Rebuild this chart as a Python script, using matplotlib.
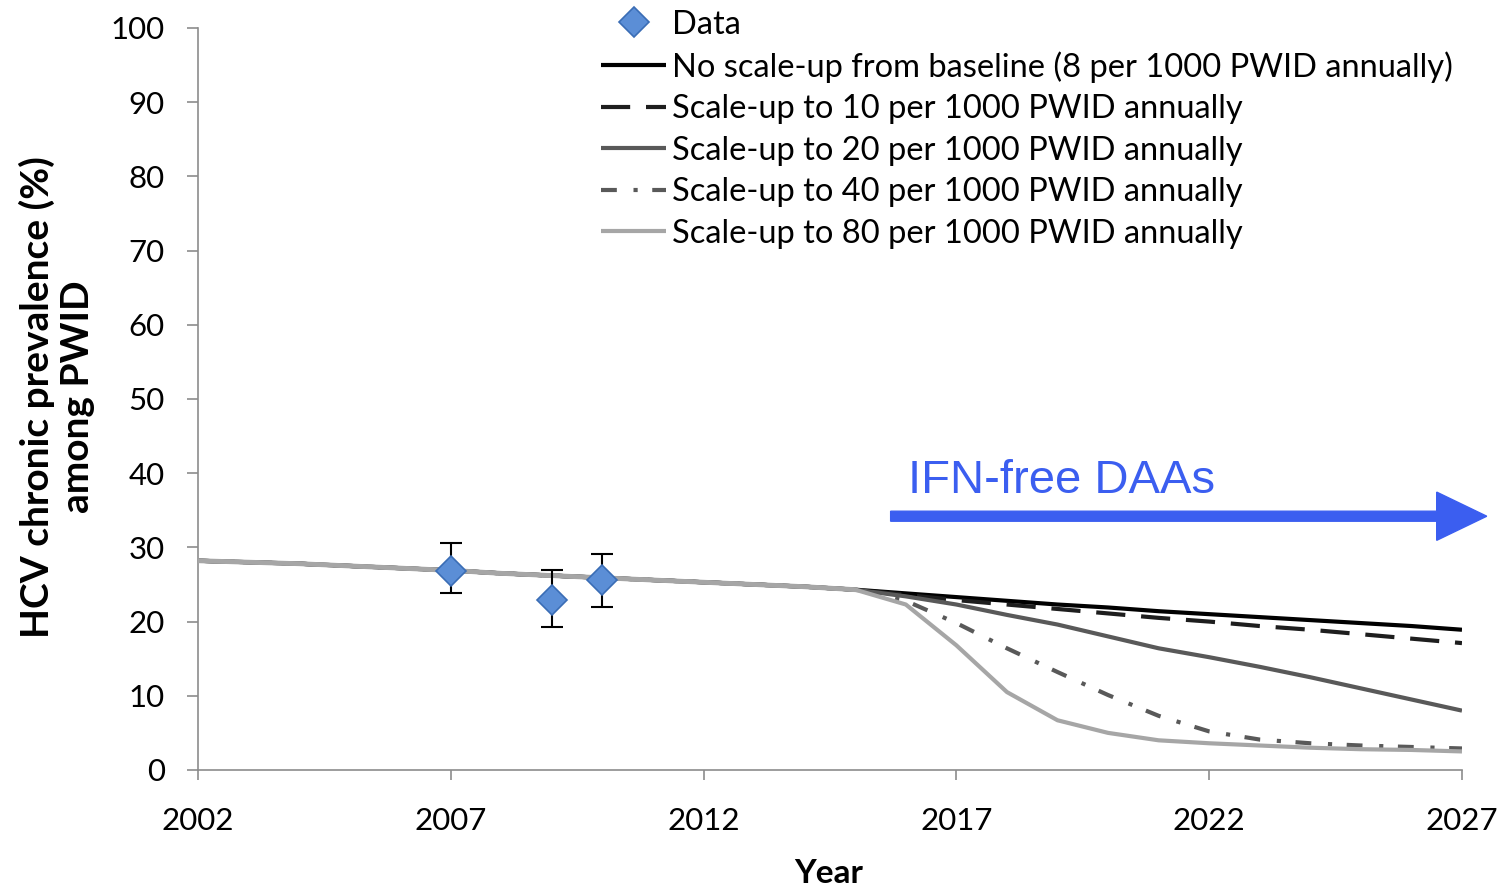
import matplotlib
matplotlib.use('Agg')
import matplotlib.pyplot as plt
from matplotlib.patches import FancyArrow

# Datos
anios_base = list(range(2002, 2016))
prev_base = [28.2, 28.0, 27.8, 27.5, 27.2, 26.9, 26.5, 26.2, 25.9, 25.6, 25.3, 25.0, 24.7, 24.3]

anios_esc = list(range(2015, 2028))
esc_base = [24.3, 23.8, 23.3, 22.8, 22.3, 21.9, 21.4, 21.0, 20.6, 20.2, 19.8, 19.4, 18.9]
esc_10 = [24.3, 23.6, 22.9, 22.3, 21.7, 21.1, 20.5, 20.0, 19.4, 18.9, 18.3, 17.7, 17.1]
esc_20 = [24.3, 23.4, 22.3, 20.9, 19.6, 18.0, 16.4, 15.2, 13.9, 12.5, 11.0, 9.5, 8.0]
esc_40 = [24.3, 22.8, 19.8, 16.4, 13.2, 10.1, 7.3, 5.2, 4.1, 3.6, 3.3, 3.1, 2.9]
esc_80 = [24.3, 22.3, 16.8, 10.5, 6.7, 5.0, 4.0, 3.6, 3.3, 3.0, 2.8, 2.7, 2.5]

datos_x = [2007, 2009, 2010]
datos_y = [26.8, 22.9, 25.6]
err_inf = [2.9, 3.6, 3.6]
err_sup = [3.8, 4.1, 3.5]

etiquetas = ['No scale-up from baseline (8 per 1000 PWID annually)',
             'Scale-up to 10 per 1000 PWID annually',
             'Scale-up to 20 per 1000 PWID annually',
             'Scale-up to 40 per 1000 PWID annually',
             'Scale-up to 80 per 1000 PWID annually']

plt.rcParams['font.family'] = ['Lato', 'DejaVu Sans']

fig = plt.figure(figsize=(15.01, 8.88), dpi=100)
ax = fig.add_axes([0.1319, 0.1329, 0.8421, 0.8356])

estilos = [
    dict(color='black', ls='-'),
    dict(color='#1e1e1e', ls=(0, (7.0, 3.8))),
    dict(color='#595959', ls='-'),
    dict(color='#595959', ls=(0, (3.8, 4.0, 1.0, 3.5))),
    dict(color='#a6a6a6', ls='-'),
]
series = [esc_base, esc_10, esc_20, esc_40, esc_80]

handles = []
for s, est, lab in zip(series, estilos, etiquetas):
    xs = anios_base[:-1] + anios_esc
    ys = prev_base[:-1] + s
    h, = ax.plot(xs, ys, lw=3, solid_capstyle='butt', dash_capstyle='butt',
                 label=lab, **est)
    handles.append(h)
# tramo comun en gris claro encima
ax.plot(anios_base, prev_base, color='#a6a6a6', lw=3.5, zorder=3)

ax.errorbar(datos_x, datos_y, yerr=[err_inf, err_sup], fmt='none', ecolor='black',
            elinewidth=1.5, capsize=8, capthick=1.5, zorder=4)
hd, = ax.plot(datos_x, datos_y, 'D', ms=15, mfc='#5b8ed6', mec='#3a6db5', mew=1.2,
              zorder=5, label='Data')

ax.set_xlim(2002, 2027)
ax.set_ylim(0, 100)
ax.set_xticks(range(2002, 2028, 5))
ax.set_yticks(range(0, 101, 10))
for lado in ['top', 'right']:
    ax.spines[lado].set_visible(False)
for lado in ['left', 'bottom']:
    ax.spines[lado].set_color('#8c8c8c')
    ax.spines[lado].set_linewidth(1.2)
ax.tick_params(axis='both', colors='#8c8c8c', labelcolor='black', labelsize=22.5, width=1.2)
ax.tick_params(axis='x', length=7, pad=20)
ax.tick_params(axis='y', length=8, pad=16)

# titulos de ejes como texto de figura
fig.text(829 / 1501, 1 - 873 / 888, 'Year', fontsize=24, fontweight='bold',
         ha='center', va='center')
fig.text(57 / 1501, 1 - 397 / 888, 'HCV chronic prevalence (%)\namong PWID', fontsize=28,
         fontweight='bold', rotation=90, ha='center', va='center', linespacing=1.15,
         multialignment='center')

# flecha IFN-free DAAs
flecha = FancyArrow(2015.7, 34.2, 10.8, 0, width=1.35, head_width=6.5, head_length=0.99,
                    length_includes_head=False, color='#3b5ef0', clip_on=False, zorder=6)
ax.add_patch(flecha)
ax.text(2016.05, 39.0, 'IFN-free DAAs', color='#3b5ef0', fontsize=34,
        family='Liberation Sans', va='center', ha='left')

leg = fig.legend([hd] + handles, ['Data'] + etiquetas, loc='upper left',
                 bbox_to_anchor=(0.394, 1.0), frameon=False, fontsize=23.5,
                 handlelength=2.0, handletextpad=0.17, labelspacing=0.35,
                 borderpad=0.3, borderaxespad=0)

fig.savefig('out.png', dpi=100)
